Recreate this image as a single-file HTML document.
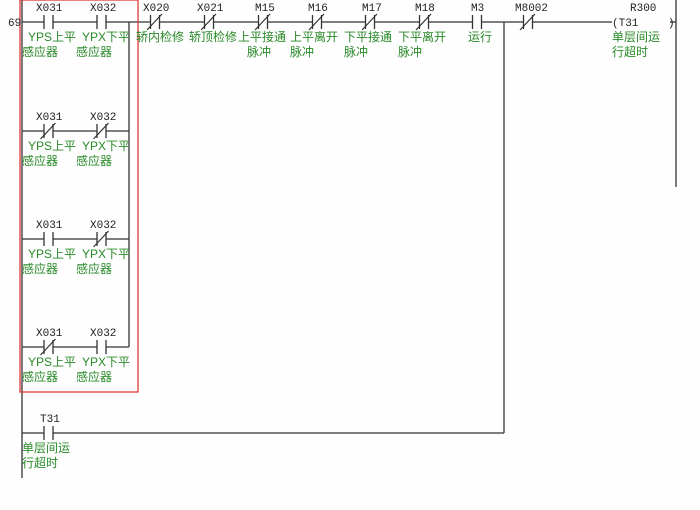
<!DOCTYPE html>
<html><head><meta charset="utf-8"><style>
html,body{margin:0;padding:0;background:#fdfefd;}
svg{display:block}
.a{font-family:"Liberation Mono","DejaVu Sans Mono",monospace;font-size:11px;fill:#222}
.c{font-family:"Liberation Sans","Noto Sans CJK SC","WenQuanYi Zen Hei",sans-serif;font-size:12px;fill:#2a8a2a}
</style></head><body>
<svg width="700" height="510" viewBox="0 0 700 510" xmlns="http://www.w3.org/2000/svg">
<defs>
<g id="no"><rect x="-4" y="-8" width="8" height="16" fill="#fdfefd"/><line x1="-4.5" y1="-7" x2="-4.5" y2="7" stroke="#333" stroke-width="1.3"/><line x1="4.5" y1="-7" x2="4.5" y2="7" stroke="#333" stroke-width="1.3"/></g>
<g id="nc"><use href="#no"/><line x1="-8" y1="8" x2="7" y2="-8" stroke="#333" stroke-width="1.2"/></g>
</defs>
<g stroke="#333" stroke-width="1.3" fill="none">
<line x1="22" y1="0" x2="22" y2="478"/>
<line x1="676" y1="0" x2="676" y2="187"/>
<line x1="22" y1="22" x2="612" y2="22"/>
<line x1="670" y1="22" x2="676" y2="22"/>
<line x1="22" y1="131" x2="129" y2="131"/>
<line x1="22" y1="239" x2="129" y2="239"/>
<line x1="22" y1="347" x2="129" y2="347"/>
<line x1="129" y1="22" x2="129" y2="347"/>
<line x1="22" y1="433" x2="504" y2="433"/>
<line x1="504" y1="22" x2="504" y2="433"/>
</g>
<rect x="20" y="0" width="118" height="392" fill="none" stroke="#e03a3a" stroke-width="1.3"/>
<text x="8" y="26" class="a">69</text>
<!-- branch 1 -->
<use href="#no" x="48.5" y="22"/><use href="#no" x="101.5" y="22"/>
<!-- branch 2 -->
<use href="#nc" x="48.5" y="131"/><use href="#nc" x="101.5" y="131"/>
<!-- branch 3 -->
<use href="#no" x="48.5" y="239"/><use href="#nc" x="101.5" y="239"/>
<!-- branch 4 -->
<use href="#nc" x="48.5" y="347"/><use href="#no" x="101.5" y="347"/>
<!-- main -->
<use href="#nc" x="155" y="22"/><use href="#nc" x="209" y="22"/><use href="#nc" x="263" y="22"/><use href="#nc" x="317" y="22"/><use href="#nc" x="370" y="22"/><use href="#nc" x="424" y="22"/><use href="#no" x="477" y="22"/><use href="#nc" x="528" y="22"/>
<use href="#no" x="48.5" y="433"/>
<rect x="613" y="14" width="56" height="16" fill="#fdfefd"/>
<g class="a">
<text x="36" y="11">X031</text><text x="90" y="11">X032</text>
<text x="36" y="120">X031</text><text x="90" y="120">X032</text>
<text x="36" y="228">X031</text><text x="90" y="228">X032</text>
<text x="36" y="336">X031</text><text x="90" y="336">X032</text>
<text x="143" y="11">X020</text><text x="197" y="11">X021</text><text x="255" y="11">M15</text><text x="308" y="11">M16</text><text x="362" y="11">M17</text><text x="415" y="11">M18</text><text x="471" y="11">M3</text><text x="515" y="11">M8002</text>
<text x="630" y="11">R300</text>
<text x="612" y="26">(T31</text><text x="668" y="26">)</text>
<text x="40" y="422">T31</text>
</g>
<g class="c">
<text x="28" y="41">YPS上平</text><text x="22" y="56">感应器</text>
<text x="82" y="41">YPX下平</text><text x="76" y="56">感应器</text>
<text x="28" y="150">YPS上平</text><text x="22" y="165">感应器</text>
<text x="82" y="150">YPX下平</text><text x="76" y="165">感应器</text>
<text x="28" y="258">YPS上平</text><text x="22" y="273">感应器</text>
<text x="82" y="258">YPX下平</text><text x="76" y="273">感应器</text>
<text x="28" y="366">YPS上平</text><text x="22" y="381">感应器</text>
<text x="82" y="366">YPX下平</text><text x="76" y="381">感应器</text>
<text x="136" y="41">轿内检修</text>
<text x="189" y="41">轿顶检修</text>
<text x="238" y="41">上平接通</text><text x="247" y="56">脉冲</text>
<text x="290" y="41">上平离开</text><text x="290" y="56">脉冲</text>
<text x="344" y="41">下平接通</text><text x="344" y="56">脉冲</text>
<text x="398" y="41">下平离开</text><text x="398" y="56">脉冲</text>
<text x="468" y="41">运行</text>
<text x="612" y="41">单层间运</text><text x="612" y="56">行超时</text>
<text x="22" y="452">单层间运</text><text x="22" y="467">行超时</text>
</g>
</svg>
</body></html>
